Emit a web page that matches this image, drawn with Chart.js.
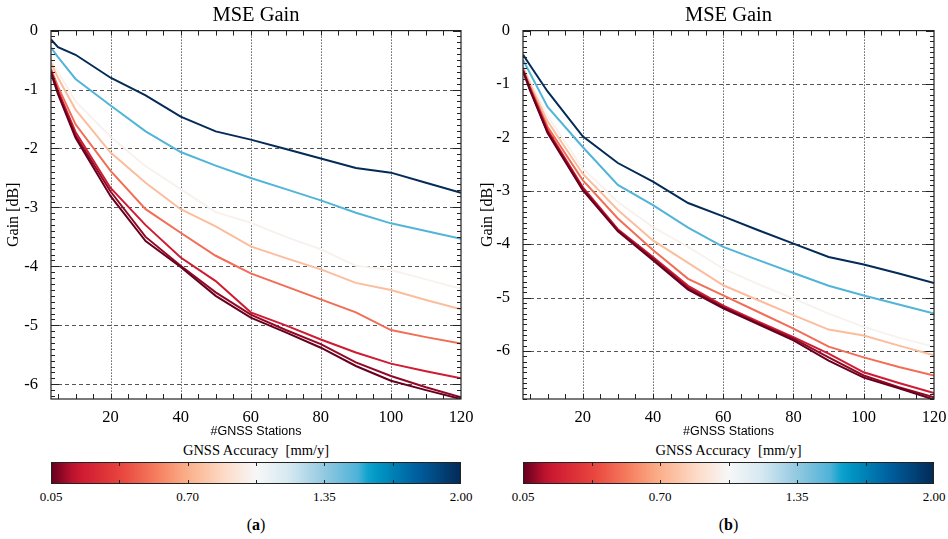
<!DOCTYPE html>
<html lang="en">
<head>
<meta charset="utf-8">
<title>MSE Gain</title>
<script src="https://cdn.jsdelivr.net/npm/chart.js"></script>
<style>
  body { margin: 0; background: #fff; }
  #page { position: relative; width: 948px; height: 539px; overflow: hidden; font-family: "Liberation Serif", serif; color: #000; }
  .panel { position: absolute; top: 0; width: 474px; height: 539px; }
  .panel canvas { position: absolute; left: 0; top: 0; }
  .cbar { position: absolute; height: 22px; border: 1px solid #222; box-sizing: border-box; }
  .cbar i { position: absolute; width: 1px; height: 3px; background: #222; }
  .cbar-title { position: absolute; top: 442px; font-size: 14.5px; white-space: pre; transform: translateX(-50%); }
  .cbar-lab { position: absolute; top: 489px; font-size: 13px; transform: translateX(-50%); }
  .caption { position: absolute; top: 516px; font-size: 16px; transform: translateX(-50%); }
</style>
</head>
<body>
<div id="page">
  <div class="panel" id="pa" style="left:0"><canvas id="chartA" width="474" height="440"></canvas></div>
  <div class="panel" id="pb" style="left:474px"><canvas id="chartB" width="474" height="440"></canvas></div>
</div>
<script>
// number of GNSS stations (x) and the GNSS accuracy of each curve [mm/y]
const stations = [3, 5, 10, 20, 30, 40, 50, 60, 70, 80, 90, 100, 110, 120];
const accuracy = [0.05, 0.1, 0.2, 0.5, 0.75, 1.0, 1.5, 2.0];

// MSE gain [dB], panel (a), one row per accuracy
const gainA = [
  [-0.72, -1.08, -1.82, -2.81, -3.57, -4.01, -4.50, -4.87, -5.12, -5.38, -5.69, -5.94, -6.10, -6.25],
  [-0.70, -1.05, -1.78, -2.73, -3.50, -3.99, -4.44, -4.82, -5.08, -5.32, -5.63, -5.86, -6.05, -6.22],
  [-0.68, -1.02, -1.72, -2.67, -3.30, -3.85, -4.25, -4.78, -5.00, -5.24, -5.46, -5.65, -5.78, -5.90],
  [-0.65, -0.95, -1.59, -2.38, -3.03, -3.43, -3.82, -4.12, -4.34, -4.56, -4.78, -5.08, -5.20, -5.31],
  [-0.55, -0.80, -1.34, -2.07, -2.58, -3.03, -3.32, -3.66, -3.86, -4.05, -4.28, -4.40, -4.57, -4.73],
  [-0.50, -0.70, -1.20, -1.80, -2.30, -2.69, -3.08, -3.26, -3.50, -3.71, -3.99, -4.06, -4.22, -4.38],
  [-0.29, -0.45, -0.82, -1.27, -1.71, -2.06, -2.29, -2.50, -2.69, -2.88, -3.09, -3.27, -3.40, -3.53],
  [-0.15, -0.28, -0.41, -0.80, -1.10, -1.46, -1.71, -1.85, -2.01, -2.17, -2.33, -2.41, -2.58, -2.75]
];

// MSE gain [dB], panel (b)
const gainB = [
  [-0.76, -1.12, -1.92, -2.99, -3.76, -4.30, -4.85, -5.20, -5.50, -5.80, -6.18, -6.50, -6.70, -6.91],
  [-0.75, -1.10, -1.90, -2.96, -3.74, -4.27, -4.82, -5.18, -5.48, -5.77, -6.12, -6.46, -6.68, -6.87],
  [-0.74, -1.08, -1.86, -2.93, -3.72, -4.24, -4.78, -5.15, -5.45, -5.74, -6.05, -6.40, -6.60, -6.79],
  [-0.72, -1.05, -1.80, -2.80, -3.52, -4.11, -4.65, -4.96, -5.27, -5.58, -5.92, -6.12, -6.30, -6.46],
  [-0.68, -1.00, -1.70, -2.68, -3.36, -3.93, -4.35, -4.77, -5.05, -5.33, -5.60, -5.71, -5.90, -6.08],
  [-0.65, -0.95, -1.60, -2.58, -3.21, -3.68, -4.05, -4.46, -4.75, -5.02, -5.30, -5.55, -5.75, -5.92],
  [-0.55, -0.80, -1.43, -2.18, -2.89, -3.27, -3.69, -4.05, -4.30, -4.54, -4.78, -4.96, -5.13, -5.30],
  [-0.45, -0.65, -1.14, -1.98, -2.48, -2.83, -3.23, -3.48, -3.74, -3.99, -4.24, -4.38, -4.55, -4.73]
];

const xTicks = [20, 40, 60, 80, 100, 120];
const yTicks = [0, -1, -2, -3, -4, -5, -6];
const cbarLabels = [0.05, 0.70, 1.35, 2.00];
const cbarMarks = [0.375, 0.70, 1.025, 1.35, 1.675];
const accMin = 0.05, accMax = 2.0;

// red-white-blue colour table (position 0..1 -> colour)
const cmapPos = [0, 0.06, 0.17, 0.25, 0.333, 0.42, 0.5, 0.58, 0.667, 0.75, 0.78, 0.9, 1];
const cmapCol = ['#67001f', '#cc1530', '#e8453e', '#f57a5c', '#fbb08b', '#fddac6', '#f7f7f7',
                 '#d6e9f2', '#93c9e1', '#4db2d8', '#00a0cb', '#005c9c', '#032b58'];

function hexRgb(h) {
  return [1, 3, 5].map(i => parseInt(h.substr(i, 2), 16));
}
function cmap(t) {
  t = Math.max(0, Math.min(1, t));
  let i = 0;
  while (i < cmapPos.length - 2 && t > cmapPos[i + 1]) i++;
  const f = (t - cmapPos[i]) / (cmapPos[i + 1] - cmapPos[i]);
  const a = hexRgb(cmapCol[i]), b = hexRgb(cmapCol[i + 1]);
  const c = a.map((v, k) => Math.round(v + (b[k] - v) * f));
  return 'rgb(' + c.join(',') + ')';
}
const accFrac = v => (v - accMin) / (accMax - accMin);

// grid, frame and inward ticks in IDL style
const frame = {
  id: 'frame',
  beforeDatasetsDraw(chart) {
    const {ctx, chartArea: a, scales: {x, y}} = chart;
    ctx.save();
    ctx.lineWidth = 1;
    ctx.strokeStyle = '#111';
    ctx.setLineDash([1, 2]);
    xTicks.forEach(v => {
      const px = Math.round(x.getPixelForValue(v)) + 0.5;
      if (px >= a.right - 1) return;
      ctx.beginPath(); ctx.moveTo(px, a.top); ctx.lineTo(px, a.bottom); ctx.stroke();
    });
    ctx.strokeStyle = '#555';
    ctx.setLineDash([4, 3]);
    yTicks.forEach(v => {
      const py = Math.round(y.getPixelForValue(v)) + 0.5;
      if (py <= a.top + 1) return;
      ctx.beginPath(); ctx.moveTo(a.left, py); ctx.lineTo(a.right, py); ctx.stroke();
    });
    ctx.restore();
  },
  afterDatasetsDraw(chart) {
    const {ctx, chartArea: a, scales: {x, y}} = chart;
    ctx.save();
    ctx.strokeStyle = '#222';
    ctx.lineWidth = 1;
    ctx.beginPath();
    for (let v = 5; v < x.max; v += 5) {
      const px = Math.round(x.getPixelForValue(v)) + 0.5;
      ctx.moveTo(px, a.bottom); ctx.lineTo(px, a.bottom - 5);
      ctx.moveTo(px, a.top); ctx.lineTo(px, a.top + 5);
    }
    for (let k = 0; k >= Math.ceil(y.min * 10); k--) {
      const py = Math.round(y.getPixelForValue(k / 10)) + 0.5;
      const len = k % 10 === 0 ? 8 : 4;
      ctx.moveTo(a.left, py); ctx.lineTo(a.left + len, py);
      ctx.moveTo(a.right, py); ctx.lineTo(a.right - len, py);
    }
    ctx.stroke();
    ctx.lineWidth = 1.2;
    ctx.strokeRect(a.left, a.top, a.right - a.left, a.bottom - a.top);
    ctx.restore();
  }
};

function makeChart(canvasId, gains, yMin, yWidth, padRight) {
  return new Chart(document.getElementById(canvasId), {
    type: 'line',
    data: {
      datasets: gains.map((row, i) => ({
        data: row.map((g, j) => ({x: stations[j], y: g})),
        borderColor: cmap(accFrac(accuracy[i])),
        borderWidth: 2,
        pointRadius: 0,
        tension: 0,
        fill: false
      }))
    },
    options: {
      responsive: false,
      animation: false,
      events: [],
      layout: {padding: {left: 0, right: padRight, top: 0, bottom: 0}},
      plugins: {
        legend: {display: false},
        tooltip: {enabled: false},
        title: {
          display: true, text: 'MSE Gain', fullSize: false, color: '#000',
          font: {family: 'Liberation Serif', size: 20.5, weight: 'normal'},
          padding: {top: 3, bottom: 3}
        }
      },
      scales: {
        x: {
          type: 'linear', min: 3, max: 120,
          afterBuildTicks: s => { s.ticks = xTicks.map(v => ({value: v})); },
          afterFit: s => { s.height = 41; s.paddingLeft = 0; s.paddingRight = 0; },
          grid: {display: false},
          border: {display: false},
          ticks: {color: '#000', font: {family: 'Liberation Serif', size: 16.5}, padding: 1, maxRotation: 0, autoSkip: false},
          title: {display: true, text: '#GNSS Stations', color: '#000',
                  font: {family: 'Liberation Sans', size: 12.5}, padding: {top: 0, bottom: 1}}
        },
        y: {
          type: 'linear', min: yMin, max: 0,
          afterBuildTicks: s => { s.ticks = yTicks.map(v => ({value: v})); },
          afterFit: s => { s.width = yWidth; s.paddingTop = 0; s.paddingBottom = 0; },
          grid: {display: false},
          border: {display: false},
          ticks: {color: '#000', font: {family: 'Liberation Serif', size: 16.5}, padding: 5, callback: v => String(v)},
          title: {display: true, text: 'Gain [dB]', color: '#000',
                  font: {family: 'Liberation Serif', size: 16}, padding: {top: 4, bottom: 0}}
        }
      }
    },
    plugins: [frame]
  });
}

// colour bar under each panel, aligned to the plot area
function addColorbar(panelId, chart, caption) {
  const panel = document.getElementById(panelId);
  const a = chart.chartArea;
  const w = a.right - a.left;
  const steps = [];
  for (let k = 0; k <= 40; k++) steps.push(cmap(k / 40) + ' ' + (k * 2.5) + '%');
  const bar = document.createElement('div');
  bar.className = 'cbar';
  bar.style.left = a.left + 'px';
  bar.style.top = '462px';
  bar.style.width = w + 'px';
  bar.style.background = 'linear-gradient(to right,' + steps.join(',') + ')';
  cbarMarks.forEach(v => {
    const px = accFrac(v) * w - 1;
    ['top:0', 'bottom:0'].forEach(pos => {
      const m = document.createElement('i');
      m.style.cssText = 'left:' + px + 'px;' + pos;
      bar.appendChild(m);
    });
  });
  panel.appendChild(bar);

  const title = document.createElement('div');
  title.className = 'cbar-title';
  title.style.left = (a.left + w / 2) + 'px';
  title.textContent = 'GNSS Accuracy  [mm/y]';
  panel.appendChild(title);

  cbarLabels.forEach(v => {
    const lab = document.createElement('div');
    lab.className = 'cbar-lab';
    lab.style.left = (a.left + accFrac(v) * w) + 'px';
    lab.textContent = v.toFixed(2);
    panel.appendChild(lab);
  });

  const cap = document.createElement('div');
  cap.className = 'caption';
  cap.style.left = (a.left + w / 2) + 'px';
  cap.innerHTML = '(<b>' + caption + '</b>)';
  panel.appendChild(cap);
}

const chartA = makeChart('chartA', gainA, -6.25, 51, 13);
const chartB = makeChart('chartB', gainB, -6.9, 49, 14);
addColorbar('pa', chartA, 'a');
addColorbar('pb', chartB, 'b');
</script>
</body>
</html>
